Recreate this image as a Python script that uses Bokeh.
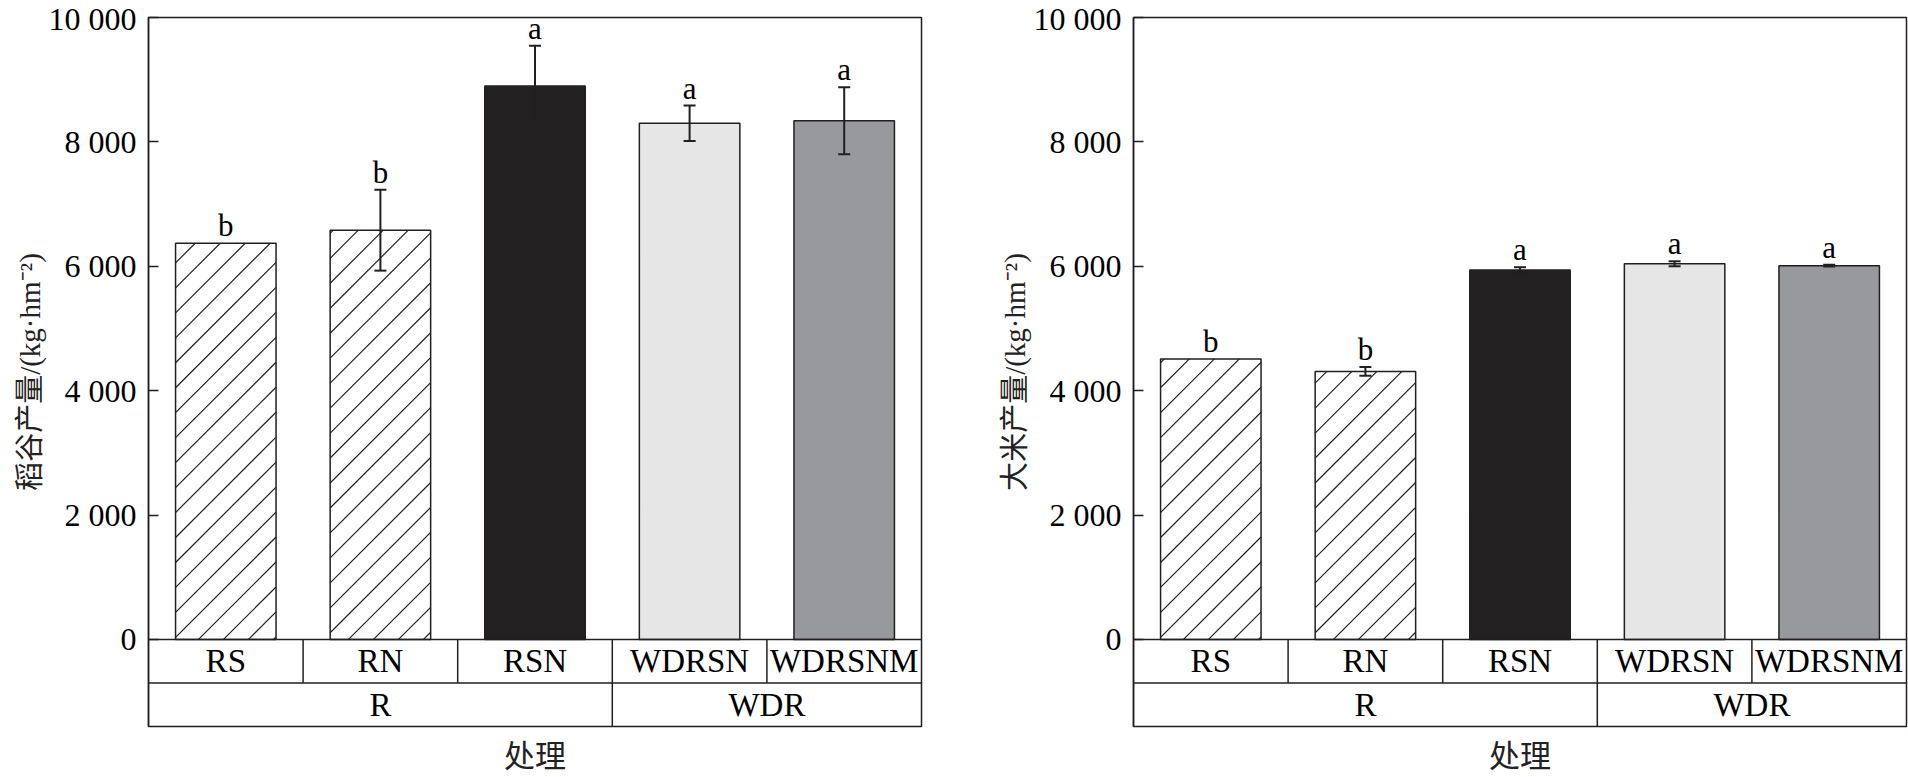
import math
from bokeh.plotting import figure
from bokeh.models import Range1d, FixedTicker, ColumnDataSource, Whisker, TeeHead
from bokeh.layouts import row
from bokeh.core.properties import value
from bokeh.embed import file_html
from bokeh.resources import INLINE

# ---------------- data ----------------
categories = ["RS", "RN", "RSN", "WDRSN", "WDRSNM"]
groups = ["R", "WDR"]
group_sizes = [3, 2]

paddy_yield = [6370, 6580, 8900, 8300, 8340]
paddy_err = [0, 650, 645, 285, 540]
paddy_letters = ["b", "b", "a", "a", "a"]

rice_yield = [4510, 4310, 5940, 6040, 6010]
rice_err = [0, 70, 45, 40, 15]
rice_letters = ["b", "b", "a", "a", "a"]

y_ticks = [0, 2000, 4000, 6000, 8000, 10000]
y_tick_labels = ["0", "2 000", "4 000", "6 000", "8 000", "10 000"]

paddy_label = "稻谷产量/(kg·hm⁻²)"
rice_label = "大米产量/(kg·hm⁻²)"
x_label = "处理"

# ---------------- styles / layout ----------------
INK = "#231f20"
bar_fill = ["white", "white", "#222021", "#e6e6e7", "#98999c"]
bar_hatched = [True, True, False, False, False]
SERIF = "Liberation Serif"
MIXED = "'Liberation Serif', 'Noto Sans CJK SC'"
ROW_H = 700          # height of a table row, in y units
Y_MAX = 10000
BAR_W = 0.65
FRAME_W = 773
FRAME_H = 710
BORDER_TOP = 17
BORDER_BOTTOM = 49
HATCH_STEP = 25      # px between hatch lines (vertical)


def panel(vals, errs, letters, ylabel, border_left, border_right):
    n = len(categories)
    p = figure(width=border_left + FRAME_W + border_right,
               height=BORDER_TOP + FRAME_H + BORDER_BOTTOM,
               x_range=Range1d(0, n), y_range=Range1d(-2 * ROW_H, Y_MAX),
               output_backend="svg", toolbar_location=None,
               min_border_left=border_left, min_border_right=border_right,
               min_border_top=BORDER_TOP, min_border_bottom=BORDER_BOTTOM)
    p.xgrid.visible = False
    p.ygrid.visible = False
    p.outline_line_color = INK
    p.outline_line_width = 1.5
    p.outline_line_alpha = 1

    x = [i + 0.5 for i in range(n)]
    src = ColumnDataSource(dict(x=x, top=vals, fill=bar_fill))
    p.vbar(x="x", top="top", bottom=0, width=BAR_W, fill_color="fill",
           line_color=None, source=src)

    # diagonal hatch lines (45 degrees on screen) clipped to hatched bars
    sx = FRAME_W / n
    sy = FRAME_H / (Y_MAX + 2 * ROW_H)
    hxs, hys = [], []
    for i in range(n):
        if not bar_hatched[i]:
            continue
        L = (x[i] - BAR_W / 2) * sx
        R = (x[i] + BAR_W / 2) * sx
        T = vals[i] * sy
        c = math.floor(-R / HATCH_STEP) * HATCH_STEP
        while c <= T - L:
            a = max(L, -c)
            b = min(R, T - c)
            if b > a:
                hxs.append([a / sx, b / sx])
                hys.append([(a + c) / sy, (b + c) / sy])
            c += HATCH_STEP
    p.multi_line(xs=hxs, ys=hys, line_color=INK, line_width=1.2)

    p.vbar(x="x", top="top", bottom=0, width=BAR_W, fill_color=None,
           line_color=INK, line_width=1.5, source=src)

    # error bars
    idx = [i for i in range(n) if errs[i] > 0]
    wsrc = ColumnDataSource(dict(base=[x[i] for i in idx],
                                 upper=[vals[i] + errs[i] for i in idx],
                                 lower=[vals[i] - errs[i] for i in idx]))
    w = Whisker(base="base", upper="upper", lower="lower", source=wsrc,
                line_color=INK, line_width=2, level="overlay",
                upper_head=TeeHead(size=12, line_color=INK, line_width=2),
                lower_head=TeeHead(size=12, line_color=INK, line_width=2))
    p.add_layout(w)

    # significance letters
    p.text(x=x, y=[vals[i] + errs[i] for i in range(n)], text=letters,
           text_font=value(SERIF), text_font_size="31px", text_align="center",
           text_baseline="bottom", text_color="black")

    # category table under the bars
    x0 = [0, 0]
    x1 = [n, n]
    y0 = [0, -ROW_H]
    y1 = [0, -ROW_H]
    for i in range(1, n):
        x0.append(i); x1.append(i); y0.append(0); y1.append(-ROW_H)
    cum = 0
    for s in group_sizes[:-1]:
        cum += s
        x0.append(cum); x1.append(cum); y0.append(-ROW_H); y1.append(-2 * ROW_H)
    p.segment(x0=x0, y0=y0, x1=x1, y1=y1, line_color=INK, line_width=1.5)

    p.text(x=x, y=[-ROW_H / 2] * n, text=categories, text_font=value(SERIF),
           text_font_size="33px", text_align="center", text_baseline="middle",
           text_color="black")
    gx = []
    cum = 0
    for s in group_sizes:
        gx.append(cum + s / 2)
        cum += s
    p.text(x=gx, y=[-1.5 * ROW_H] * len(groups), text=groups, text_font=value(SERIF),
           text_font_size="33px", text_align="center", text_baseline="middle",
           text_color="black")

    # y axis
    ya = p.yaxis[0]
    ya.ticker = FixedTicker(ticks=y_ticks)
    ya.major_label_overrides = {t: l for t, l in zip(y_ticks, y_tick_labels)}
    ya.major_tick_in = 10
    ya.major_tick_out = 0
    ya.minor_tick_line_color = None
    ya.major_tick_line_color = INK
    ya.major_tick_line_width = 1.5
    ya.axis_line_color = INK
    ya.axis_line_width = 1.5
    ya.major_label_standoff = 12
    ya.major_label_text_font = SERIF
    ya.major_label_text_font_size = "32px"
    ya.major_label_text_color = "black"
    ya.axis_label = ylabel
    ya.axis_label_text_font = MIXED
    ya.axis_label_text_font_size = "29px"
    ya.axis_label_text_font_style = "normal"
    ya.axis_label_text_color = "#222222"
    ya.axis_label_standoff = 0

    # x axis: only the title
    xa = p.xaxis[0]
    xa.ticker = FixedTicker(ticks=[])
    xa.axis_line_color = None
    xa.major_tick_line_color = None
    xa.minor_tick_line_color = None
    xa.major_tick_out = 0
    xa.axis_label = x_label
    xa.axis_label_text_font = MIXED
    xa.axis_label_text_font_size = "31px"
    xa.axis_label_text_font_style = "normal"
    xa.axis_label_text_color = "#222222"
    xa.axis_label_standoff = 12
    return p


p1 = panel(paddy_yield, paddy_err, paddy_letters, paddy_label, 148, 4)
p2 = panel(rice_yield, rice_err, rice_letters, rice_label, 208, 2)
layout = row(p1, p2)

open("out.html", "w").write(file_html(layout, INLINE))
